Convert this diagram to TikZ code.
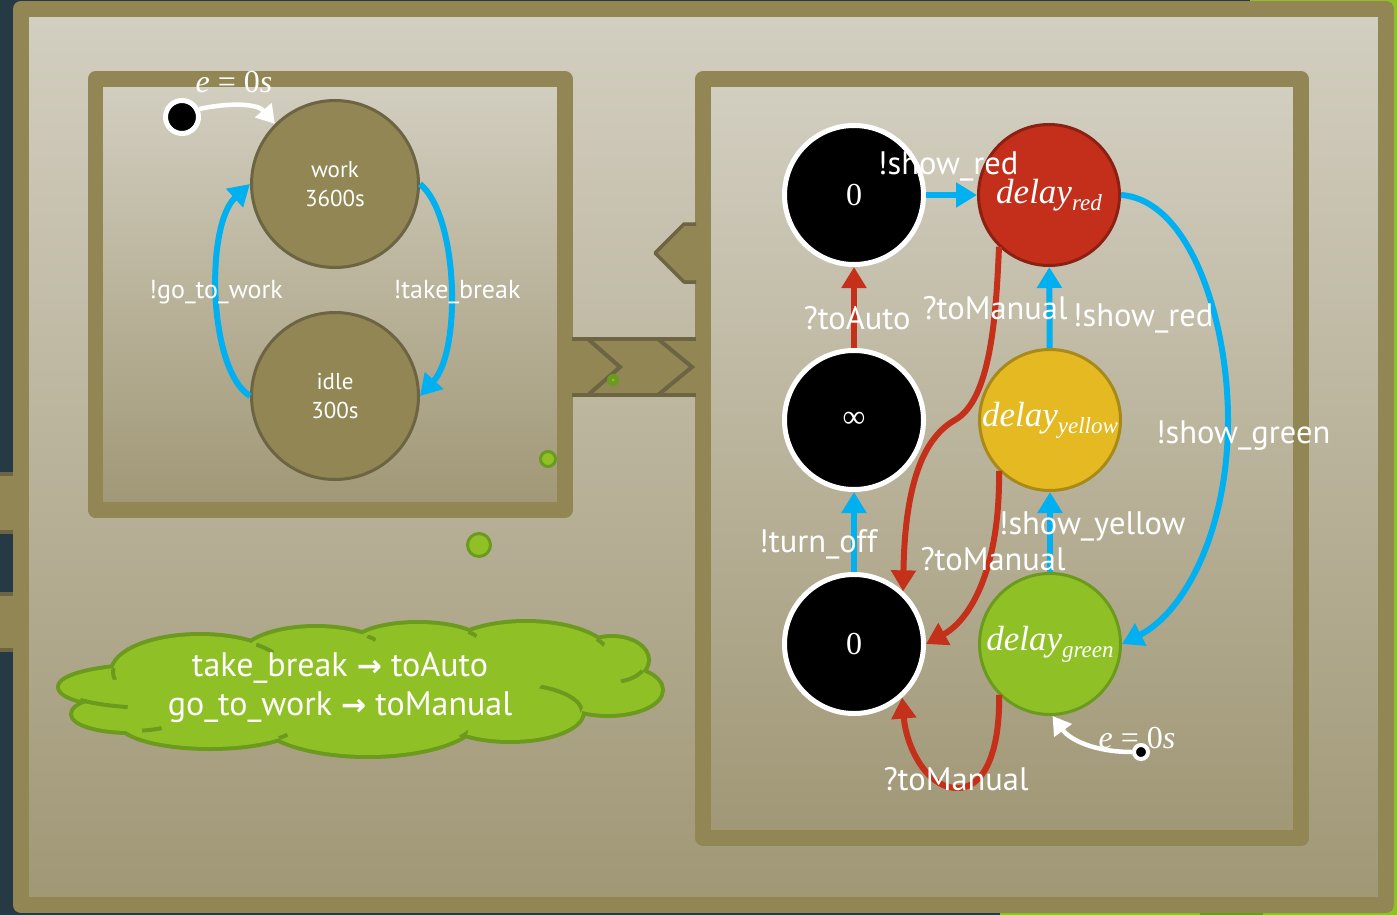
\documentclass[tikz,border=0pt]{standalone}
\usepackage{fontspec}
\setmainfont{PT Sans}
\newfontfamily\arrowfont{DejaVu Sans}
\newfontfamily\symfont{Liberation Serif}
\usetikzlibrary{arrows.meta}

\definecolor{navy}{HTML}{263A45}
\definecolor{olive}{HTML}{918654}
\definecolor{darkolive}{HTML}{6C6442}
\definecolor{bgtop}{HTML}{D3CFC1}
\definecolor{bgbot}{HTML}{A09775}
\definecolor{skyblue}{HTML}{00B0F0}
\definecolor{arrowred}{HTML}{C5301B}
\definecolor{redfill}{HTML}{C42F1B}
\definecolor{redline}{HTML}{8C2012}
\definecolor{yelfill}{HTML}{E4B922}
\definecolor{yelline}{HTML}{A88A19}
\definecolor{grnfill}{HTML}{8FC127}
\definecolor{grnline}{HTML}{6B9A1E}

% italic variable with a large italic subscript
\newcommand{\delayvar}[1]{{\symfont\itshape delay\raisebox{-7pt}{\fontsize{23}{23}\selectfont #1}}}
\newcommand{\clockzero}{{\symfont\textit{e} = 0\textit{s}}}
\newcommand{\maparrow}{{\arrowfont\bfseries\fontsize{30}{30}\selectfont →}}

% one puff of the cloud: centre x, centre y, x radius, y radius
\newcommand{\puff}[4]{(#1,#2) ellipse [x radius=#3pt, y radius=#4pt]}

\tikzset{
  frame/.style={draw=olive, line join=round, top color=bgtop, bottom color=bgbot},
  wstate/.style={circle, fill=olive, draw=darkolive, line width=3pt, minimum size=167pt,
    inner sep=0pt, align=center, text=white, font=\fontsize{23}{29}\selectfont},
  blackstate/.style={circle, fill=black, draw=white, line width=5pt, minimum size=139pt,
    inner sep=0pt, text=white, font=\symfont\fontsize{32}{34}\selectfont},
  colstate/.style={circle, line width=3pt, minimum size=141pt, inner sep=0pt,
    text=white, font=\fontsize{35}{37}\selectfont},
  initdot/.style={circle, fill=black, draw=white, line width=5pt, minimum size=33pt, inner sep=0pt},
  smalldot/.style={circle, fill=black, draw=white, line width=4pt, minimum size=14pt, inner sep=0pt},
  barrow/.style={draw=skyblue, line width=6pt, -{Triangle[length=21pt,width=24pt]}},
  rarrow/.style={draw=arrowred, line width=6pt, -{Triangle[length=21pt,width=24pt]}},
  warrow/.style={draw=white, line width=4.5pt, -{Triangle[length=18pt,width=21pt]}},
  lbl/.style={text=white, inner sep=0pt, font=\fontsize{32.5}{34}\selectfont},
  smalllbl/.style={text=white, inner sep=0pt, font=\fontsize{26}{28}\selectfont},
  mathlbl/.style={text=white, inner sep=0pt, font=\fontsize{32}{34}\selectfont},
  gdot/.style={circle, fill=grnfill, draw=grnline, line width=3pt, inner sep=0pt},
  seam/.style={draw=grnline, line width=4pt},
}

\begin{document}
\begin{tikzpicture}[x=1pt,y=-1pt]
\useasboundingbox (0,0) rectangle (1397,915);

% backdrop and edge strips
\fill[navy] (0,0) rectangle (1397,915);
\fill[grnfill] (1392,0) rectangle (1397,915);
\fill[grnfill] (1250,0) rectangle (1397,3);
\fill[grnfill] (1000,911) rectangle (1397,915);
\fill[grnline] (1200,911) rectangle (1263,915);

% side tabs on the left edge
\foreach \ya/\yb in {472/534, 592/652}{
  \fill[olive] (0,\ya) rectangle (14,\yb);
  \fill[darkolive] (0,\ya) rectangle (14,\ya+4);
  \fill[darkolive] (0,\yb-4) rectangle (14,\yb);
}

% outer frame
\draw[frame, line width=16pt] (21,9) rectangle (1386,905);

% left and right containers
\draw[frame, line width=15.5pt] (95.5,79) rectangle (565,510);
\draw[frame, line width=15.5pt] (703,79) rectangle (1301,838);

% link band between the containers
\fill[olive] (572,337) rectangle (696,397);
\draw[darkolive, line width=3.5pt] (572,339) -- (696,339);
\draw[darkolive, line width=3.5pt] (572,395) -- (696,395);
\draw[darkolive, line width=4pt] (588,339) -- (620,367) -- (588,395);
\draw[darkolive, line width=4pt] (658,339) -- (692,367) -- (658,395);

% notch on the right container
\fill[olive] (696,224) -- (684,224) -- (655,253) -- (684,282) -- (696,282) -- cycle;
\draw[darkolive, line width=3.5pt, line join=round] (696,224) -- (684,224) -- (655,253) -- (684,282) -- (696,282);

% small green dots
\node[circle, fill=grnline, minimum size=12pt, inner sep=0pt] (d1) at (613,380) {};
\node[circle, fill=grnfill, minimum size=3pt, inner sep=0pt] (d1c) at (613,380) {};
\node[gdot, minimum size=15pt] (d2) at (548,459) {};
\node[gdot, minimum size=23pt] (d3) at (479,545) {};

% ---------- worker automaton ----------
\node[wstate] (work) at (335,184) {work\\3600s};
\node[wstate] (idle) at (335,396) {idle\\300s};
\node[initdot] (i1) at (182,117) {};

\draw[warrow] (i1.25) .. controls (232,102) and (258,104) .. (work.135);
\draw[barrow] (work.east) .. controls (458,215) and (462,350) .. (idle.east);
\draw[barrow] (idle.west) .. controls (208,370) and (205,225) .. (work.west);

\node[mathlbl] (e1) at (234,82) {\clockzero};
\node[smalllbl] (lgo) at (216,292) {!go\_to\_work};
\node[smalllbl] (ltb) at (457,292) {!take\_break};

% ---------- traffic light automaton ----------
\node[blackstate] (z0) at (854,195) {0};
\node[colstate, fill=redfill, draw=redline] (red) at (1049,195) {\delayvar{red}};
\node[blackstate] (inf) at (854,420) {∞};
\node[colstate, fill=yelfill, draw=yelline] (yel) at (1050,420) {\delayvar{yellow}};
\node[blackstate] (z1) at (854,644) {0};
\node[colstate, fill=grnfill, draw=grnline] (grn) at (1050,644) {\delayvar{green}};
\node[smalldot] (i2) at (1141,752) {};

\draw[barrow] (z0) -- (red);
\draw[rarrow] (inf) -- (z0);
\draw[barrow] (z1) -- (inf);
\draw[barrow] (yel) -- (red);
\draw[barrow] (grn) -- (yel);
\draw[barrow] (red.east) .. controls (1190,200) and (1228,320) .. (1228,420)
  .. controls (1228,530) and (1185,612) .. (grn.east);
\draw[rarrow] (red.226) .. controls (996,320) and (990,400) .. (955,420)
  .. controls (925,437) and (905,480) .. (z1.47);
\draw[rarrow] (yel.225) .. controls (1000,570) and (970,620) .. (z1.east);
\draw[rarrow] (grn.225) .. controls (1000,750) and (985,790) .. (955,788)
  .. controls (925,786) and (906,745) .. (z1.-48);
\draw[warrow] (i2.west) .. controls (1095,752) and (1070,740) .. (grn.272);

\node[lbl] (l1) at (948,166) {!show\_red};
\node[lbl] (l2) at (857,318) {?toAuto};
\node[lbl] (l3) at (995,308) {?toManual};
\node[lbl] (l4) at (1143,318) {!show\_red};
\node[lbl] (l5) at (1243,436) {!show\_green};
\node[lbl] (l6) at (1092,526) {!show\_yellow};
\node[lbl] (l7) at (818,544) {!turn\_off};
\node[lbl] (l8) at (993,559) {?toManual};
\node[lbl] (l9) at (956,779) {?toManual};
\node[mathlbl] (e2) at (1137,738) {\clockzero};

% ---------- mapping note: a cloud built from overlapping puffs ----------
\def\puffs{
  \puff{156}{687}{96}{21}  % left
  \puff{200}{672}{87}{36}  % upper left
  \puff{316}{658}{75}{30}  % top middle
  \puff{418}{645.5}{65}{21.5} % top
  \puff{526}{659}{85}{36}  % upper right
  \puff{612}{660}{35}{22}  % right shoulder
  \puff{608}{690}{53}{24}  % right
  \puff{510}{712}{72}{28}  % lower right
  \puff{368}{716}{110}{39} % bottom
  \puff{210}{722}{90}{25}  % lower left
  \puff{130}{714}{57}{17}  % far lower left
}
\draw[grnline, line width=8pt] \puffs;
\fill[grnfill] \puffs;
\fill[grnfill] (360,690) ellipse [x radius=230pt, y radius=35pt];
% seams where one puff tucks under the next
\begin{scope}\clip (114,674) circle [radius=6pt];   \draw[seam] \puff{200}{672}{87}{36}; \end{scope}
\begin{scope}\clip (266,646) circle [radius=10pt];  \draw[seam] \puff{200}{672}{87}{36}; \end{scope}
\begin{scope}\clip (371,639) circle [radius=5pt];   \draw[seam] \puff{316}{658}{75}{30}; \end{scope}
\begin{scope}\clip (472,635) circle [radius=5pt];   \draw[seam] \puff{418}{645.5}{65}{21.5}; \end{scope}
\begin{scope}\clip (600,643) circle [radius=5pt];   \draw[seam] \puff{526}{659}{85}{36}; \end{scope}
\begin{scope}\clip (632,677) circle [radius=12pt];  \draw[seam] \puff{612}{660}{35}{22}; \end{scope}
\begin{scope}\clip (560,700) circle [radius=24pt];  \draw[seam] \puff{510}{712}{72}{28}; \end{scope}
\begin{scope}\clip (462,731) circle [radius=6pt];   \draw[seam] \puff{368}{716}{110}{39}; \end{scope}
\begin{scope}\clip (283,736) circle [radius=5pt];   \draw[seam] \puff{210}{722}{90}{25}; \end{scope}
\begin{scope}\clip (152,730) circle [radius=10pt];  \draw[seam] \puff{130}{714}{57}{17}; \end{scope}
\begin{scope}\clip (104,704) circle [radius=24pt];  \draw[seam] \puff{156}{687}{96}{21}; \end{scope}

\node[text=white, align=center, inner sep=0pt, font=\fontsize{34}{39}\selectfont] (ct) at (340,688)
  {take\_break \maparrow{} toAuto\\go\_to\_work \maparrow{} toManual};
\end{tikzpicture}
\end{document}
